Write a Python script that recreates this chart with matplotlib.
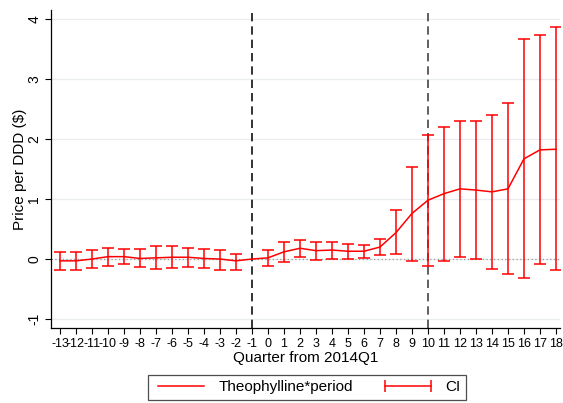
import matplotlib
matplotlib.use('Agg')

import matplotlib.pyplot as plt
from matplotlib.lines import Line2D
import numpy as np

plt.rcParams['font.family'] = ['Liberation Sans', 'DejaVu Sans']

# ---- data
quarters = list(range(-13, 19))
coef = [-0.03, -0.03, 0.00, 0.04, 0.04, 0.01, 0.02, 0.03, 0.03, 0.01,
        0.00, -0.03, 0.00, 0.02, 0.12, 0.18, 0.14, 0.15, 0.13, 0.13,
        0.20, 0.44, 0.76, 0.98, 1.09, 1.17, 1.15, 1.12, 1.17, 1.67,
        1.82, 1.83]
ci_hi = [0.11, 0.12, 0.15, 0.18, 0.17, 0.17, 0.21, 0.21, 0.18, 0.17,
         0.15, 0.09, None, 0.15, 0.28, 0.32, 0.28, 0.29, 0.25, 0.24,
         0.34, 0.81, 1.53, 2.07, 2.20, 2.30, 2.30, 2.40, 2.60, 3.66,
         3.74, 3.86]
ci_lo = [-0.18, -0.18, -0.15, -0.11, -0.09, -0.14, -0.17, -0.15, -0.13, -0.15,
         -0.18, -0.18, None, -0.12, -0.05, 0.04, -0.01, 0.00, 0.00, 0.01,
         0.07, 0.08, -0.03, -0.11, -0.04, 0.04, 0.00, -0.16, -0.25, -0.32,
         -0.08, -0.19]
event_lines = [-1, 10]
y_ticks = [-1, 0, 1, 2, 3, 4]

RED = '#ff0000'

fig = plt.figure(figsize=(5.63, 4.03), dpi=100)
ax = fig.add_axes([0.0906, 0.186, 0.904, 0.789])

# gridlines and zero reference
for yt in y_ticks:
    ax.axhline(yt, color='#e8eef0', lw=0.9, zorder=0)
ax.axhline(0, color='#999999', lw=0.9, ls=(0, (1, 2)), zorder=1)

# confidence intervals (skip omitted period)
xs = [q for q, h in zip(quarters, ci_hi) if h is not None]
lo = np.array([l for l in ci_lo if l is not None])
hi = np.array([h for h in ci_hi if h is not None])
mid = (lo + hi) / 2
ax.errorbar(xs, mid, yerr=[mid - lo, hi - mid], fmt='none',
            ecolor=RED, elinewidth=1.1, capsize=4, capthick=1.1, zorder=3)

# point estimates
ax.plot(quarters, coef, color=RED, lw=1.1, zorder=4)

# event markers
ax.axvline(event_lines[0], color='#111111', lw=1.2, ls=(0, (5, 3)), zorder=2)
ax.axvline(event_lines[1], color='#444444', lw=1.2, ls=(0, (5, 3)), zorder=2)

ax.set_xlim(-13.56, 18.25)
ax.set_ylim(-1.15, 4.15)
ax.set_xticks(quarters)
ax.set_xticklabels([str(q) for q in quarters], fontsize=9)
ax.set_yticks(y_ticks)
ax.set_yticklabels([str(y) for y in y_ticks], fontsize=10, rotation=90,
                   va='center')
ax.tick_params(direction='out', length=4, width=0.8, pad=3)

ax.spines['top'].set_visible(False)
ax.spines['right'].set_visible(False)
ax.spines['left'].set_linewidth(0.9)
ax.spines['bottom'].set_linewidth(0.9)

ax.set_xlabel('Quarter from 2014Q1', fontsize=11, labelpad=1)
ax.set_ylabel('Price per DDD ($)', fontsize=11, labelpad=0)

# legend
h_line = Line2D([], [], color=RED, lw=1.1)
h_ci = Line2D([], [], color=RED, lw=1.1, marker='|', markersize=8,
              markeredgewidth=1.1)
leg = fig.legend([h_line, h_ci], ['Theophylline*period', 'CI'],
                 loc='center', bbox_to_anchor=(0.546, 0.0385), ncol=2,
                 numpoints=2, fontsize=11, frameon=True, fancybox=False,
                 edgecolor='#222222', handlelength=3.6, columnspacing=1.8,
                 borderpad=0.35, handletextpad=0.65)
leg.get_frame().set_linewidth(0.9)

fig.savefig('out.png', dpi=100)
